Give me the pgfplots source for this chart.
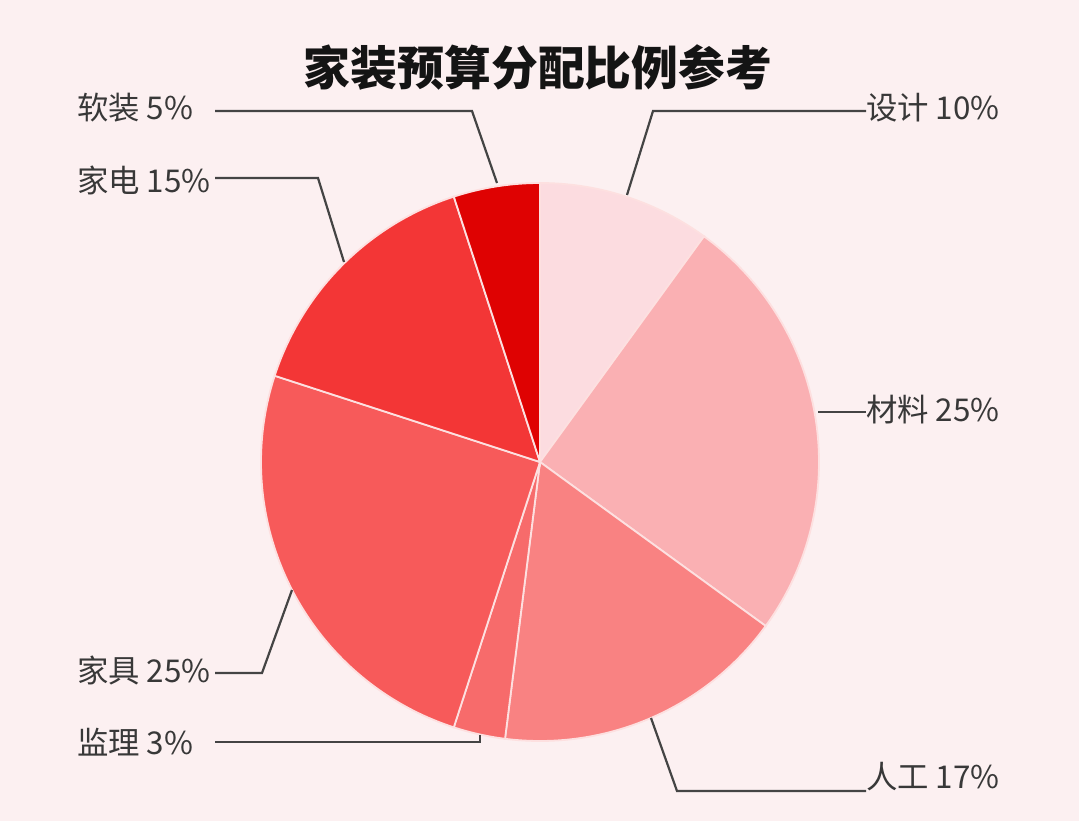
\documentclass[border=0pt]{standalone}
\usepackage{pgfplots}
\pgfplotsset{compat=1.18}
\usepackage{fontspec}
\setmainfont{Noto Sans CJK SC}
\newfontfamily\cjk{Noto Sans CJK SC}

\definecolor{bgpink}{HTML}{FCF0F1}
\definecolor{cSheji}{HTML}{FCDCE0}
\definecolor{cCailiao}{HTML}{FAB0B3}
\definecolor{cRengong}{HTML}{F98282}
\definecolor{cJianli}{HTML}{F76B6B}
\definecolor{cJiaju}{HTML}{F75A5A}
\definecolor{cJiadian}{HTML}{F33636}
\definecolor{cRuanzhuang}{HTML}{DF0202}
\definecolor{sepline}{HTML}{FDE0E0}
\definecolor{leader}{HTML}{444444}
\definecolor{labeltext}{HTML}{383838}

% slice from cumulative percent #1 to #2, clockwise from 12 o'clock
\newcommand{\slice}[3]{%
  \addplot[fill=#3, draw=sepline, line width=1.8bp, domain={90-3.6*#2}:{90-3.6*#1}, samples=80, variable=\t]
    ({540+279*cos(\t)}, {359+279*sin(\t)}) -- (axis cs:540,359) -- cycle;
}

\begin{document}
\begin{tikzpicture}
\begin{axis}[
    width=1079bp, height=821bp, scale only axis,
    xmin=0, xmax=1079, ymin=0, ymax=821,
    hide axis, clip=false,
]
\fill[bgpink] (axis cs:0,0) rectangle (axis cs:1079,821);

% cumulative shares (%): 设计 10, 材料 25, 人工 17, 监理 3, 家具 25, 家电 15, 软装 5
\slice{0}{10}{cSheji}
\slice{10}{35}{cCailiao}
\slice{35}{52}{cRengong}
\slice{52}{55}{cJianli}
\slice{55}{80}{cJiaju}
\slice{80}{95}{cJiadian}
\slice{95}{100}{cRuanzhuang}

% title
\node[font=\cjk\bfseries\fontsize{47}{52}\selectfont, text=black!92] at (axis cs:538,753) {家装预算分配比例参考};

% leader lines
\begin{scope}[draw=leader, line width=2.2bp]
\draw (axis cs:215,710) -- (axis cs:472,710) -- (axis cs:497,638);
\draw (axis cs:215,643) -- (axis cs:318,643) -- (axis cs:344,559);
\draw (axis cs:215,148) -- (axis cs:262,148) -- (axis cs:292,231);
\draw (axis cs:215,79) -- (axis cs:480,79) -- (axis cs:480,86);
\draw (axis cs:866,710) -- (axis cs:653,710) -- (axis cs:627,626);
\draw (axis cs:818,409) -- (axis cs:866,409);
\draw (axis cs:866,30) -- (axis cs:677,30) -- (axis cs:651,103);
\end{scope}

% labels
\begin{scope}[every node/.style={font=\cjk\fontsize{31.5}{35}\selectfont, text=labeltext, inner sep=0pt}]
\node[anchor=west] at (axis cs:77,713) {软装 5\%};
\node[anchor=west] at (axis cs:77,641) {家电 15\%};
\node[anchor=west] at (axis cs:77,151) {家具 25\%};
\node[anchor=west] at (axis cs:77,79) {监理 3\%};
\node[anchor=west] at (axis cs:866,713) {设计 10\%};
\node[anchor=west] at (axis cs:866,411) {材料 25\%};
\node[anchor=west] at (axis cs:866,44) {人工 17\%};
\end{scope}
\end{axis}
\end{tikzpicture}
\end{document}
